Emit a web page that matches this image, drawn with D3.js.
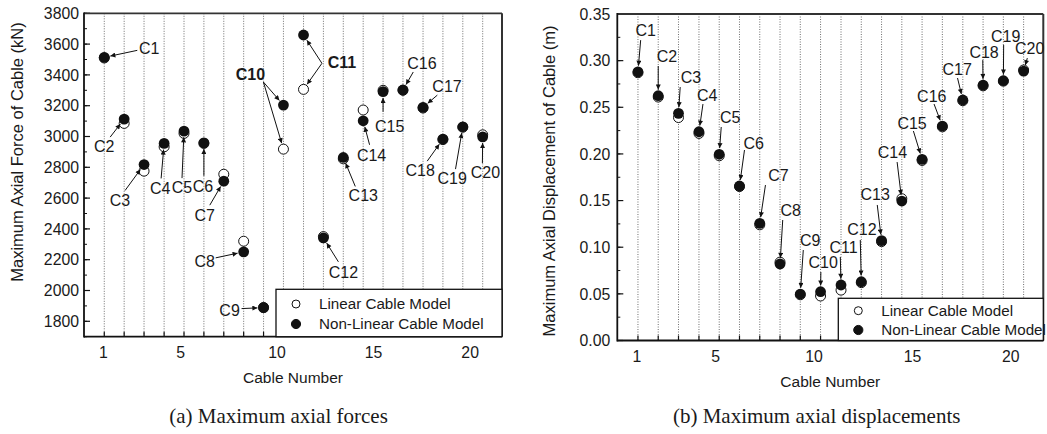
<!DOCTYPE html>
<html><head><meta charset="utf-8">
<script src="https://cdn.jsdelivr.net/npm/d3@7"></script>
<style>
body{margin:0;background:#fff}
svg{display:block}
text{font-family:"Liberation Sans",Arial,sans-serif;fill:#1a1a1a}
</style>
</head><body>
<svg id="chart" width="1047" height="434"></svg>
<script>
// ---------------- data ----------------
const cables = ["C1","C2","C3","C4","C5","C6","C7","C8","C9","C10","C11","C12","C13","C14","C15","C16","C17","C18","C19","C20"];
const cableX = [1.05,2.08,3.11,4.15,5.18,6.21,7.24,8.27,9.30,10.33,11.37,12.40,13.43,14.46,15.49,16.52,17.56,18.59,19.62,20.65];
const forceLinear    = [3510,3085,2775,2933,3020,2955,2755,2320,1890,2918,3306,2350,2855,3172,3300,3300,3185,2980,3060,3011];
const forceNonLinear = [3514,3113,2818,2955,3035,2959,2710,2251,1889,3204,3659,2342,2864,3102,3291,3302,3189,2983,3063,2998];
const dispLinear     = [0.287,0.261,0.239,0.222,0.198,0.165,0.124,0.084,0.049,0.0477,0.054,0.062,0.106,0.152,0.193,0.229,0.257,0.273,0.278,0.290];
const dispNonLinear  = [0.288,0.2624,0.2435,0.2238,0.1996,0.1656,0.1256,0.082,0.0498,0.0523,0.0595,0.063,0.107,0.1495,0.1942,0.2299,0.2578,0.2738,0.2785,0.2888];
const xTickLabels = [1,5,10,15,20];
const forceTicks = [1800,2000,2200,2400,2600,2800,3000,3200,3400,3600,3800];
const dispTicks = [0.00,0.05,0.10,0.15,0.20,0.25,0.30,0.35];
const seriesNames = ["Linear Cable Model","Non-Linear Cable Model"];

// ------------- annotation layout (pixel offsets) -------------
// [label dx, label dy from non-linear point, arrow start dx, dy from label, targets, bold]
const forceNotes = [
  [45,-9, -12,2, ["nl"]],
  [-20,27, 6,-9, ["nl"]],
  [-24,36, 5,-10, ["nl"]],
  [-4,45, 1,-10, ["nl"]],
  [-2,56, 0,-9, ["nl"]],
  [-1,43, 1,-10, ["nl"]],
  [-19,34, 5,-10, ["nl"]],
  [-39,9, 11,-3, ["nl"]],
  [-34,3, 12,-2, ["nl"]],
  [-33,-31, 13,8, ["nl","lin"], true],
  [38.4,27.3, -20,1, ["nl","lin"], true],
  [20,34, -5,-10, ["nl"]],
  [20,38, -8,-9, ["nl"]],
  [8.4,34, -2,-10, ["nl"]],
  [6.6,35, -6.6,-15, ["nl"]],
  [19,-26.7, -8.7,8.7, ["nl"]],
  [24,-21.3, -9.7,9, ["nl"]],
  [-22.7,31, 7,-9, ["nl"]],
  [-10.6,51.6, 3.3,-9.3, ["nl"]],
  [2.7,35, -3,-8.7, ["nl"]]
];
const dispNotes = [
  [7.7,-41.7, -5,10, ["nl"]],
  [8.7,-39.7, -8.7,10, ["nl"]],
  [12.4,-36, -10.7,9.7, ["nl"]],
  [8.3,-36.7, -4.3,9, ["nl"]],
  [11,-37, -9,9.7, ["nl"]],
  [14.3,-42.7, -9.3,6.7, ["nl"]],
  [18.7,-48.3, -13,10, ["nl"]],
  [10.7,-54, -8,10, ["nl"]],
  [10,-54, -7,10, ["nl"]],
  [2.6,-29, -2.3,9.3, ["nl"]],
  [2.6,-37.7, -3.3,9.7, ["nl"]],
  [0.7,-52.4, -1.7,10.7, ["nl"]],
  [-6.3,-46.7, 2,11, ["nl"]],
  [-9.4,-48.3, 4.7,9.3, ["nl"]],
  [-10,-36, 1.3,7.7, ["nl"]],
  [-10.6,-30, 2.3,8, ["nl"]],
  [-5.6,-30.7, 0.3,8.7, ["nl"]],
  [1,-33.3, -1.3,8.3, ["nl"]],
  [2.3,-44.7, -2,9, ["nl"]],
  [6,-22.7, -2.3,9.7, ["nl"]]
];

const svg = d3.select("#chart");
svg.append("rect").attr("width",1047).attr("height",434).attr("fill","#fff");
const defs = svg.append("defs");
defs.append("marker").attr("id","ah").attr("viewBox","0 0 10 10")
  .attr("refX",10).attr("refY",5).attr("markerWidth",7).attr("markerHeight",5)
  .attr("markerUnits","userSpaceOnUse").attr("orient","auto")
  .append("path").attr("d","M0,0 L10,5 L0,10 Z").attr("fill","#111");

function panel(o){
  const g = svg.append("g");
  const x = d3.scaleLinear().domain([0,21.65]).range([o.x0,o.x1]);
  const y = d3.scaleLinear().domain(o.ydom).range([o.y0,o.y1]);
  // gridlines
  g.selectAll(".grid").data(cableX).join("line")
    .attr("x1",d=>x(d)).attr("x2",d=>x(d)).attr("y1",o.y1).attr("y2",o.y0)
    .attr("stroke","#5e5e5e").attr("stroke-width",0.9).attr("stroke-dasharray","1,1.5");
  // x ticks at cables (inward)
  g.selectAll(".xt").data(cableX).join("line")
    .attr("x1",d=>x(d)).attr("x2",d=>x(d)).attr("y1",o.y0).attr("y2",o.y0-5)
    .attr("stroke","#111").attr("stroke-width",1.2);
  // y ticks
  const minor = d3.range(o.ydom[0], o.ydom[1]+o.minorStep/2, o.minorStep);
  g.selectAll(".ym").data(minor).join("line")
    .attr("x1",o.x0).attr("x2",o.x0+3).attr("y1",d=>y(d)).attr("y2",d=>y(d))
    .attr("stroke","#111").attr("stroke-width",1);
  g.selectAll(".yM").data(o.yticks).join("line")
    .attr("x1",o.x0).attr("x2",o.x0+6).attr("y1",d=>y(d)).attr("y2",d=>y(d))
    .attr("stroke","#111").attr("stroke-width",1.2);
  g.selectAll(".yl").data(o.yticks).join("text")
    .attr("x",o.x0-o.ylabGap).attr("y",d=>y(d)).attr("dy","0.36em")
    .attr("text-anchor","end").style("font-size","15.8px").text(o.yfmt);
  g.selectAll(".xl").data(xTickLabels).join("text")
    .attr("x",d=>x(d)).attr("y",o.y0+21).attr("text-anchor","middle")
    .style("font-size","15.8px").text(d=>d);
  // frame
  g.append("line").attr("x1",o.x0).attr("x2",o.x1).attr("y1",o.y1).attr("y2",o.y1).attr("stroke","#333").attr("stroke-width",1.8);
  g.append("line").attr("x1",o.x1).attr("x2",o.x1).attr("y1",o.y1).attr("y2",o.y0).attr("stroke","#333").attr("stroke-width",2);
  g.append("line").attr("x1",o.x0).attr("x2",o.x0).attr("y1",o.y1-0.9).attr("y2",o.y0+0.9).attr("stroke","#111").attr("stroke-width",1.8);
  g.append("line").attr("x1",o.x0).attr("x2",o.x1).attr("y1",o.y0).attr("y2",o.y0).attr("stroke","#111").attr("stroke-width",1.8);
  // titles
  g.append("text").attr("x",(o.x0+o.x1)/2).attr("y",o.y0+46).attr("text-anchor","middle")
    .style("font-size","15.5px").text("Cable Number");
  g.append("text").attr("transform",`translate(${o.ytx},${o.yty}) rotate(-90)`)
    .attr("text-anchor","middle").style("font-size","16.5px").text(o.ytitle);
  // points
  g.selectAll(".lin").data(o.lin).join("circle")
    .attr("cx",(d,i)=>x(cableX[i])).attr("cy",d=>y(d)).attr("r",5)
    .attr("fill","#fff").attr("stroke","#111").attr("stroke-width",1);
  g.selectAll(".nl").data(o.nl).join("circle")
    .attr("cx",(d,i)=>x(cableX[i])).attr("cy",d=>y(d)).attr("r",5.4)
    .attr("fill","#111");
  // annotations
  o.notes.forEach((n,i)=>{
    const px = x(cableX[i]), py = y(o.nl[i]);
    const lx = px+n[0], ly = py+n[1];
    const t = g.append("text").attr("x",lx).attr("y",ly).attr("dy","0.36em")
      .attr("text-anchor","middle").style("font-size","16px").text(cables[i]);
    if(n[5]) t.style("font-weight","bold");
    const sx = lx+n[2], sy = ly+n[3];
    n[4].forEach(tg=>{
      const tx = px, ty = y(tg==="nl"?o.nl[i]:o.lin[i]);
      const dx = tx-sx, dy = ty-sy, L = Math.hypot(dx,dy);
      const k = (L-6.2)/L;
      g.append("line").attr("x1",sx).attr("y1",sy).attr("x2",sx+dx*k).attr("y2",sy+dy*k)
        .attr("stroke","#111").attr("stroke-width",1).attr("marker-end","url(#ah)");
    });
  });
  // legend
  const lg = g.append("g");
  lg.append("rect").attr("x",o.leg[0]).attr("y",o.leg[1]).attr("width",o.x1-o.leg[0]).attr("height",o.leg[2])
    .attr("fill","#fff").attr("stroke","#111").attr("stroke-width",1.3);
  seriesNames.forEach((s,j)=>{
    const cy = o.leg[1]+o.leg[3]+j*o.leg[4];
    lg.append("circle").attr("cx",o.leg[0]+20).attr("cy",cy).attr("r",j===0?4:4.6)
      .attr("fill",j===0?"#fff":"#111").attr("stroke","#111").attr("stroke-width",1);
    lg.append("text").attr("x",o.leg[0]+43).attr("y",cy).attr("dy","0.36em")
      .style("font-size","15.2px").text(s);
  });
  // caption
  g.append("text").attr("x",o.capx).attr("y",423).attr("text-anchor","middle")
    .style("font-family","'Liberation Serif','Times New Roman',serif").style("font-size","21px")
    .text(o.caption);
}

panel({x0:84,x1:502,y0:336.7,y1:13.3,ydom:[1700,3800],yticks:forceTicks,minorStep:100,
  yfmt:d=>d,ylabGap:5,lin:forceLinear,nl:forceNonLinear,notes:forceNotes,
  ytitle:"Maximum Axial Force of Cable (kN)",ytx:23,yty:152,
  leg:[276,289.3,47.4,14.7,20],capx:278.5,caption:"(a) Maximum axial forces"});
panel({x0:617.3,x1:1043.3,y0:340.5,y1:14,ydom:[0,0.35],yticks:dispTicks,minorStep:0.025,
  yfmt:d3.format(".2f"),ylabGap:7,lin:dispLinear,nl:dispNonLinear,notes:dispNotes,
  ytitle:"Maximum Axial Displacement of Cable (m)",ytx:555,yty:181,
  leg:[838.3,298.3,42.2,12.4,19.3],capx:816.7,caption:"(b) Maximum axial displacements"});
</script>
</body></html>
